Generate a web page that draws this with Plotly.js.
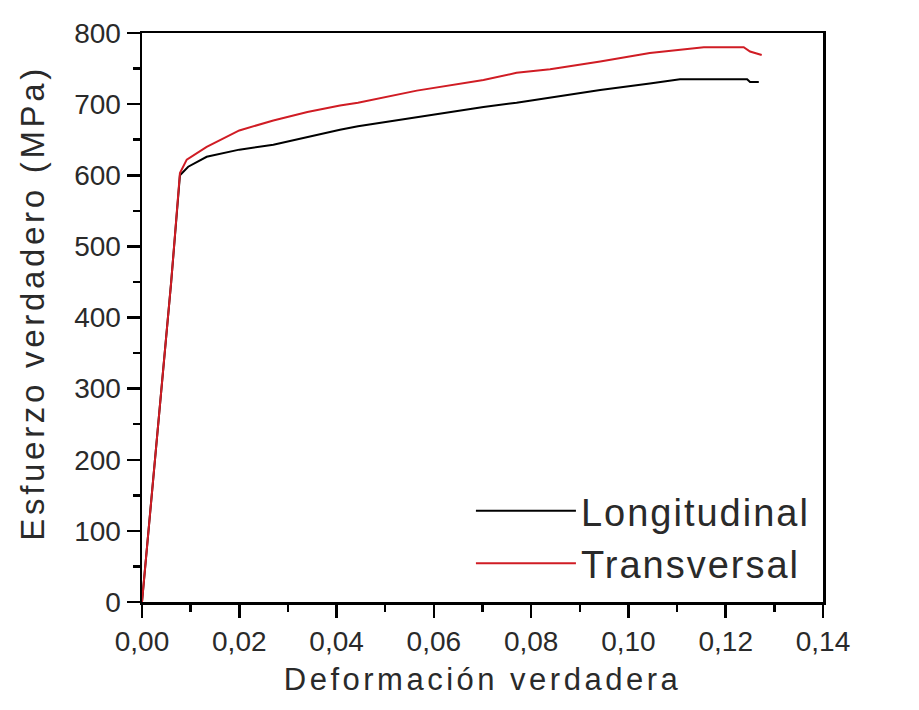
<!DOCTYPE html>
<html>
<head>
<meta charset="utf-8">
<script src="https://cdn.plot.ly/plotly-3.0.1.min.js"></script>
<style>
html, body { margin: 0; padding: 0; background: #fff; }
#chart { width: 919px; height: 710px; }
.xtitle { letter-spacing: 3.5px; }
.annotation-text { letter-spacing: 3.7px; }
.legendtext { letter-spacing: 2px; }
</style>
</head>
<body>
<div id="chart"></div>
<script>
// Data
const seriesNames = ["Longitudinal", "Transversal"];
const strainLongitudinal = [0, 0.002, 0.004, 0.006, 0.0078, 0.0095, 0.0133, 0.020, 0.027, 0.034, 0.0407, 0.0444, 0.0565, 0.0702, 0.077, 0.0839, 0.0942, 0.1044, 0.1106, 0.1244, 0.125, 0.1268];
const stressLongitudinal = [0, 150, 300, 450, 600, 612, 626, 636, 643, 654, 664, 669, 682, 696, 702, 709, 720, 729, 735, 735, 731, 731];
const strainTransversal = [0, 0.002, 0.004, 0.006, 0.0078, 0.0092, 0.0133, 0.020, 0.027, 0.034, 0.0407, 0.0444, 0.0565, 0.0702, 0.077, 0.0839, 0.0942, 0.1044, 0.1155, 0.1237, 0.125, 0.1274];
const stressTransversal = [0, 150, 300, 450, 603, 622, 640, 663, 677, 689, 698, 702, 719, 734, 744, 749, 760, 772, 780, 780, 774, 769];
const xTickVals = [0, 0.02, 0.04, 0.06, 0.08, 0.10, 0.12, 0.14];
const yTickVals = [0, 100, 200, 300, 400, 500, 600, 700, 800];
const xTitle = "Deformación verdadera";
const yTitle = "Esfuerzo verdadero (MPa)";

const traces = [
  { x: strainLongitudinal, y: stressLongitudinal, name: seriesNames[0], mode: "lines",
    line: { color: "#000000", width: 2 } },
  { x: strainTransversal, y: stressTransversal, name: seriesNames[1], mode: "lines",
    line: { color: "#d01c24", width: 2 } }
];

const fam = "Liberation Sans, Arial, sans-serif";
const tickFont = { family: fam, size: 28, color: "#2a2a2a" };

const layout = {
  width: 919, height: 710,
  margin: { l: 142, r: 96, t: 33, b: 108 },
  paper_bgcolor: "#fff", plot_bgcolor: "#fff",
  separators: ",.",
  showlegend: true,
  legend: {
    x: 0.483, y: 0.215, xanchor: "left", yanchor: "top",
    font: { family: fam, size: 38, color: "#2a2a2a" },
    bgcolor: "rgba(0,0,0,0)", itemwidth: 100, tracegroupgap: 0
  },
  xaxis: {
    range: [0, 0.14], tickvals: xTickVals, tickformat: ".2f",
    ticks: "outside", ticklen: 13, tickwidth: 2.5, tickcolor: "#000",
    minor: { dtick: 0.01, ticks: "outside", ticklen: 7, tickwidth: 2.5, tickcolor: "#000" },
    showline: true, linewidth: 2.5, linecolor: "#000", mirror: true,
    showgrid: false, zeroline: false, tickfont: tickFont,
    title: { text: xTitle, font: { family: fam, size: 31, color: "#2a2a2a" }, standoff: 12 }
  },
  yaxis: {
    range: [0, 800], tickvals: yTickVals,
    ticks: "outside", ticklen: 13, tickwidth: 2.5, tickcolor: "#000",
    minor: { dtick: 50, ticks: "outside", ticklen: 7, tickwidth: 2.5, tickcolor: "#000" },
    showline: true, linewidth: 2.5, linecolor: "#000", mirror: true,
    showgrid: false, zeroline: false, tickfont: tickFont
  },
  annotations: [{
    text: yTitle, textangle: -90, showarrow: false,
    xref: "paper", yref: "paper", x: -0.16, y: 0.526,
    xanchor: "center", yanchor: "middle",
    font: { family: fam, size: 33, color: "#2a2a2a" }
  }]
};

Plotly.newPlot("chart", traces, layout, { displayModeBar: false, staticPlot: true });
</script>
</body>
</html>
